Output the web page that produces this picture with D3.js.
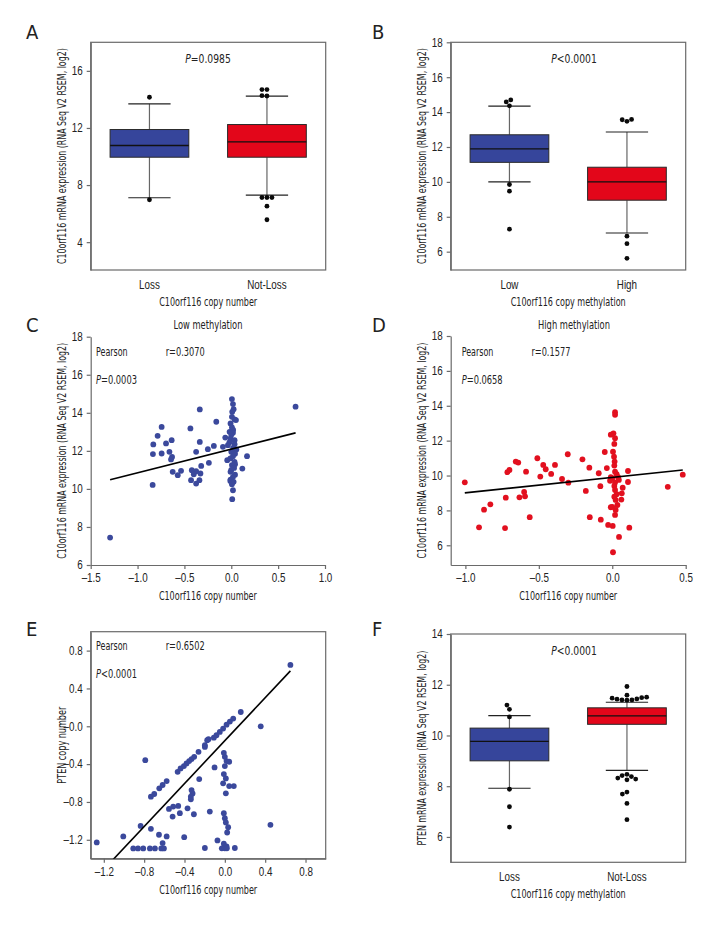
<!DOCTYPE html>
<html><head><meta charset="utf-8">
<script src="https://cdn.jsdelivr.net/npm/d3@7"></script>
<style>
body{margin:0;background:#fff;}
svg{font-family:"Liberation Sans Narrow","DejaVu Sans Condensed","Roboto Condensed",sans-serif;font-stretch:condensed;}
</style></head><body>
<svg id="c" width="720" height="936"></svg>
<script>
// ---------------- DATA ----------------
// Panel A: boxplot, C10orf116 copy number
const catsA = ["Loss", "Not-Loss"];
const lowA = [7.11, 7.29], q1A = [9.95, 9.95], medA = [10.77, 11.03], q3A = [11.89, 12.24], highA = [13.69, 14.23];
const outA = [[14.15, 6.97], [14.69, 14.69, 14.24, 14.26, 7.13, 7.13, 7.13, 6.52, 5.57]];
const yTicksA = [4, 8, 12, 16];
const yLabelsA = ["4", "8", "12", "16"];

// Panel B: boxplot, methylation
const catsB = ["Low", "High"];
const lowB = [10.0, 7.07], q1B = [11.12, 8.95], medB = [11.89, 10.0], q3B = [12.70, 10.84], highB = [14.34, 12.86];
const outB = [[14.70, 14.36, 14.58, 9.85, 9.47, 7.29], [13.58, 13.47, 13.56, 6.89, 6.46, 5.62]];
const yTicksB = [6, 8, 10, 12, 14, 16, 18];
const yLabelsB = ["6", "8", "10", "12", "14", "16", "18"];

// Panel C: scatter, low methylation [copy number, expression]
const ptsC = [
 [-1.293,7.44],[-0.336,14.18],[-0.743,13.26],[-0.436,13.18],[-0.16,13.53],[-0.786,12.79],[-0.832,12.34],
 [-0.696,12.39],[-0.636,12.56],[-0.836,11.83],[-0.743,11.86],[-0.66,11.95],[-0.632,11.68],[-0.643,11.55],
 [-0.336,12.47],[-0.375,11.95],[-0.25,12.09],[-0.186,12.26],[-0.625,10.9],[-0.536,10.95],[-0.571,10.72],
 [-0.421,10.98],[-0.375,10.93],[-0.321,11.21],[-0.239,11.37],[-0.4,10.77],[-0.329,10.81],[-0.429,10.46],
 [-0.375,10.28],[-0.34,10.46],[-0.839,10.21],[-0.089,12.21],[-0.064,12.7],[-0.043,11.51],
 [0.118,11.07],[0.168,11.72],[0.686,14.32],
 [0.007,14.72],[0.018,14.46],[0.025,14.19],[0.01,14.05],[0.007,13.79],[0.035,13.65],[0.05,13.62],[-0.008,13.44],
 [0.007,13.23],[0.02,13.1],[-0.018,13.0],[0.018,12.95],[0.0,12.85],[-0.008,12.65],[0.035,12.56],[-0.02,12.45],
 [-0.036,12.3],[0.035,12.35],[0.02,12.15],[0.054,12.07],[0.0,11.95],[0.04,11.85],[0.018,11.72],[-0.01,11.6],
 [0.035,11.42],[0.04,11.3],[0.007,11.25],[0.03,11.1],[0.0,11.0],[-0.008,10.9],[0.04,10.75],[0.018,10.63],
 [-0.008,10.49],[-0.01,10.42],[0.025,10.37],[0.007,10.25],[0.018,9.93],[0.01,9.46]
];
const fitC = [1.246, 12.09]; // slope, intercept
const xTicksC = [-1.5, -1.0, -0.5, 0.0, 0.5, 1.0];
const xLabelsC = ["\u20131.5", "\u20131.0", "\u20130.5", "0.0", "0.5", "1.0"];
const yTicksC = [6, 8, 10, 12, 14, 16, 18];
const yLabelsC = ["6", "8", "10", "12", "14", "16", "18"];

// Panel D: scatter, high methylation
const ptsD = [
 [-1.004,9.61],[-0.907,7.03],[-0.873,8.04],[-0.83,8.35],[-0.73,6.99],[-0.725,8.73],[-0.714,10.19],[-0.70,10.32],
 [-0.657,10.8],[-0.64,10.74],[-0.632,8.75],[-0.60,9.06],[-0.594,8.81],[-0.587,10.22],[-0.562,7.61],[-0.51,10.99],
 [-0.49,9.94],[-0.47,10.61],[-0.453,10.36],[-0.416,10.09],[-0.39,10.61],[-0.342,9.80],[-0.303,11.22],[-0.299,9.59],
 [-0.203,10.93],[-0.156,10.45],[-0.18,9.12],[-0.153,7.61],[-0.092,10.13],[-0.081,9.39],[-0.078,7.47],[-0.051,11.35],
 [-0.037,10.43],[-0.028,7.17],[0.003,7.11],[0.005,5.6],[0.046,6.48],[0.116,7.01],[0.107,10.26],[0.107,9.63],
 [0.071,9.3],[0.065,8.98],[0.062,8.62],[0.378,9.35],[0.48,10.05],
 [0.019,13.63],[0.019,13.48],[0.008,12.42],[-0.01,12.34],[0.019,12.14],[0.014,11.81],[0.005,11.37],[0.012,11.08],
 [0.016,10.8],[0.014,10.57],[0.019,10.22],[0.03,10.08],[-0.01,9.9],[0.0,9.85],[0.04,9.9],[-0.015,9.7],[0.019,9.6],
 [0.045,9.75],[0.014,9.4],[0.019,9.17],[0.03,8.93],[0.014,8.79],[0.023,8.6],[0.035,8.31],[-0.01,8.18],[0.023,8.03],
 [0.019,7.74],[0.0,8.2]
];
const fitD = [0.886, 9.895];
const xTicksD = [-1.0, -0.5, 0.0, 0.5];
const xLabelsD = ["\u20131.0", "\u20130.5", "0.0", "0.5"];
const yTicksD = [6, 8, 10, 12, 14, 16, 18];
const yLabelsD = ["6", "8", "10", "12", "14", "16", "18"];

// Panel E: scatter, C10orf116 vs PTEN copy number
const ptsE = [
 [-1.27,-1.228],[-1.007,-1.165],[-0.835,-1.053],[-0.789,-0.358],
 [-0.908,-1.291],[-0.861,-1.291],[-0.809,-1.291],[-0.743,-1.291],[-0.693,-1.291],[-0.63,-1.291],[-0.604,-1.291],
 [-0.733,-1.084],[-0.653,-1.147],[-0.577,-1.165],[-0.617,-1.235],
 [-0.554,-0.874],[-0.512,-0.849],[-0.462,-0.842],[-0.518,-0.955],[-0.446,-0.919],[-0.37,-0.867],[-0.403,-1.172],[-0.307,-0.93],
 [-0.33,-0.674],[-0.32,-0.71],[-0.337,-0.772],[-0.337,-0.745],[-0.254,-0.558],
 [-0.733,-0.744],[-0.70,-0.716],[-0.65,-0.656],[-0.617,-0.621],[-0.577,-0.579],[-0.468,-0.481],[-0.439,-0.446],
 [-0.406,-0.421],[-0.38,-0.393],[-0.354,-0.368],[-0.33,-0.347],[-0.304,-0.323],[-0.261,-0.270],[-0.198,-0.218],
 [-0.175,-0.147],[-0.198,-0.2],[-0.162,-0.137],[-0.109,-0.12],[-0.083,-0.095],[-0.05,-0.06],[-0.017,-0.024],
 [0.017,0.017],[0.05,0.05],[0.083,0.081],[0.158,0.151],[0.65,0.649],
 [0.356,0.0],[-0.102,-0.435],[-0.01,-0.281],[0.0,-0.323],[0.017,-0.368],[0.043,-0.375],[0.0,-0.421],[-0.01,-0.505],
 [0.01,-0.551],[-0.017,-0.603],[0.043,-0.632],[0.089,-0.632],[0.01,-0.709],[-0.149,-0.902],[-0.01,-0.919],[0.0,-0.972],
 [0.01,-1.017],[0.033,-1.067],[0.023,-1.123],[0.452,-1.042],[-0.073,-1.207],[-0.01,-1.242],[0.017,-1.27],[-0.198,-1.287],
 [-0.03,-1.29],[0.099,-1.287],[0.0,-1.29],[0.02,-1.29]
];
const fitE = [1.135, -0.152];
const xTicksE = [-1.2, -0.8, -0.4, 0.0, 0.4, 0.8];
const xLabelsE = ["\u20131.2", "\u20130.8", "\u20130.4", "0.0", "0.4", "0.8"];
const yTicksE = [-1.2, -0.8, -0.4, 0.0, 0.4, 0.8];
const yLabelsE = ["\u20131.2", "\u20130.8", "\u20130.4", "\u20130.0", "0.4", "0.8"];

// Panel F: boxplot, PTEN expression
const catsF = ["Loss", "Not-Loss"];
const lowF = [7.92, 8.62], q1F = [9.0, 10.44], medF = [9.77, 10.77], q3F = [10.29, 11.09], highF = [10.78, 11.31];
const outF = [[11.03, 11.2, 10.73, 7.88, 7.19, 6.39],
  [11.93, 11.59, 11.49, 11.44, 11.40, 11.39, 11.40, 11.43, 11.47, 11.51, 8.47, 8.38, 8.28, 8.25, 8.32, 8.42, 7.69, 7.77, 7.32, 6.68]];
const yTicksF = [6, 8, 10, 12, 14];
const yLabelsF = ["6", "8", "10", "12", "14"];

// ---------------- STYLE ----------------
const BLUE = "#36459b", RED = "#e3061a", DOT_BLUE = "#3b499c", DOT_RED = "#e2101f";
const AXIS = "#6a6a6a", TXT = "#222";
const FS = 12;
const svg = d3.select("#c");

function styleAxis(g) {
  g.selectAll("path.domain").attr("stroke", AXIS).attr("stroke-width", 1.2);
  g.selectAll(".tick line").attr("stroke", AXIS).attr("stroke-width", 1.2);
  g.selectAll(".tick text").attr("fill", TXT).attr("font-size", FS).attr("font-family", null);
}

function yAxis(y, x0, ticks, labels) {
  const g = svg.append("g").attr("transform", `translate(${x0},0)`)
    .call(d3.axisLeft(y).tickValues(ticks).tickFormat((d, i) => labels[i]).tickSize(4).tickPadding(4).tickSizeOuter(0));
  styleAxis(g);
  return g;
}
function xAxis(x, y0, ticks, labels, pad) {
  const g = svg.append("g").attr("transform", `translate(0,${y0})`)
    .call(d3.axisBottom(x).tickValues(ticks).tickFormat((d, i) => labels[i]).tickSize(4).tickPadding(pad).tickSizeOuter(0));
  styleAxis(g);
  return g;
}
function frame(p) {
  svg.append("rect").attr("x", p.x0).attr("y", p.y0).attr("width", p.x1 - p.x0).attr("height", p.y1 - p.y0)
    .attr("fill", "none").attr("stroke", AXIS).attr("stroke-width", 1.2);
}
function text(x, y, s, size, anchor, opts = {}) {
  const t = svg.append("text").attr("x", x).attr("y", y).attr("font-size", size).attr("fill", TXT)
    .attr("text-anchor", anchor || "start");
  if (opts.italicP) {
    t.append("tspan").attr("font-style", "italic").text("P");
    t.append("tspan").text(s);
  } else t.text(s);
  if (opts.w) t.attr("data-w", opts.w);
  return t;
}
function yTitle(x, cy, s, w) {
  svg.append("text").attr("transform", `translate(${x},${cy}) rotate(-90)`).attr("text-anchor", "middle")
    .attr("dy", "0.35em").attr("font-size", FS).attr("fill", TXT).attr("data-w", w).attr("data-rot", 1).text(s);
}
function letter(x, y, s) { text(x, y, s, 20, "start").attr("data-keep", 1); }

function swarm(vals, y, ref, r) {
  const d = 2 * r + 0.2;
  const placed = [];
  const items = vals.map(v => ({ v, y: y(v) })).sort((a, b) => Math.abs(a.v - ref) - Math.abs(b.v - ref));
  items.forEach(p => {
    const ints = [];
    placed.forEach(q => {
      const dy = Math.abs(q.y - p.y);
      if (dy < d) { const w = Math.sqrt(d * d - dy * dy); ints.push([q.x - w, q.x + w]); }
    });
    const cands = [0];
    ints.forEach(([a, b]) => cands.push(a, b));
    cands.sort((a, b) => Math.abs(a) - Math.abs(b) || a - b);
    let xx = 0;
    for (const c of cands) { if (ints.every(([a, b]) => c <= a + 1e-6 || c >= b - 1e-6)) { xx = c; break; } }
    p.x = xx; placed.push(p);
  });
  return placed;
}

function boxPanel(p, cats, lo, q1, med, q3, hi, outs, yDom, yTicks, yLabels, colors, xTitle, xW, yT, yW, pText, pX) {
  const x = d3.scaleBand().domain(cats).range([p.x0, p.x1]).padding(0);
  const y = d3.scaleLinear().domain(yDom).range([p.y1, p.y0]);
  const bw = x.bandwidth() * 0.67, cw = x.bandwidth() * 0.36;
  yAxis(y, p.x0, yTicks, yLabels);
  const gx = svg.append("g").attr("transform", `translate(0,${p.y1})`)
    .call(d3.axisBottom(x).tickSize(0).tickPadding(10));
  gx.select("path.domain").remove();
  gx.selectAll(".tick text").attr("fill", TXT).attr("font-size", FS).attr("font-family", null);
  frame(p);
  cats.forEach((c, i) => {
    const cx = x(c) + x.bandwidth() / 2;
    const g = svg.append("g");
    g.append("line").attr("x1", cx).attr("x2", cx).attr("y1", y(hi[i])).attr("y2", y(q3[i])).attr("stroke", "#666").attr("stroke-width", 1.2);
    g.append("line").attr("x1", cx).attr("x2", cx).attr("y1", y(q1[i])).attr("y2", y(lo[i])).attr("stroke", "#666").attr("stroke-width", 1.2);
    [hi[i], lo[i]].forEach(v => g.append("line").attr("x1", cx - cw / 2).attr("x2", cx + cw / 2)
      .attr("y1", y(v)).attr("y2", y(v)).attr("stroke", "#222").attr("stroke-width", 1.2));
    g.append("rect").attr("x", cx - bw / 2).attr("width", bw).attr("y", y(q3[i])).attr("height", y(q1[i]) - y(q3[i]))
      .attr("fill", colors[i]).attr("stroke", "#2a2a2a").attr("stroke-width", 1);
    g.append("line").attr("x1", cx - bw / 2).attr("x2", cx + bw / 2).attr("y1", y(med[i])).attr("y2", y(med[i]))
      .attr("stroke", "#111").attr("stroke-width", 1.3);
    swarm(outs[i], y, med[i], 2.4).forEach(o => g.append("circle").attr("cx", cx + o.x).attr("cy", o.y).attr("r", 2.4).attr("fill", "#0a0a0a"));
  });
  text((p.x0 + p.x1) / 2, p.y1 + 36, xTitle, FS, "middle", { w: xW });
  yTitle(p.x0 - 29, (p.y0 + p.y1) / 2, yT, yW);
  text(pX, p.y0 + 21, pText, 12.5, "middle", { italicP: true });
}

function scatterPanel(p, pts, fit, xDom, yDom, xTicks, xLabels, yTicks, yLabels, color, boxed, xTitle, yT, yW, rText, pText, xPad) {
  const x = d3.scaleLinear().domain(xDom).range([p.x0, p.x1]);
  const y = d3.scaleLinear().domain(yDom).range([p.y1, p.y0]);
  const clipId = "clip" + Math.round(p.x0) + Math.round(p.y0);
  svg.append("clipPath").attr("id", clipId).append("rect").attr("x", p.x0).attr("y", p.y0)
    .attr("width", p.x1 - p.x0).attr("height", p.y1 - p.y0);
  yAxis(y, p.x0, yTicks, yLabels);
  xAxis(x, p.y1, xTicks, xLabels, xPad);
  if (boxed) frame(p);
  svg.append("g").selectAll("circle").data(pts).join("circle")
    .attr("cx", d => x(d[0])).attr("cy", d => y(d[1])).attr("r", 2.9).attr("fill", color);
  const xs = d3.extent(pts, d => d[0]);
  svg.append("line").attr("clip-path", `url(#${clipId})`)
    .attr("x1", x(xs[0])).attr("y1", y(fit[0] * xs[0] + fit[1]))
    .attr("x2", x(xs[1])).attr("y2", y(fit[0] * xs[1] + fit[1]))
    .attr("stroke", "#000").attr("stroke-width", 1.6);
  text(p.tx, p.ty1, "Pearson", 12.5, "start", { w: 31.7 });
  text(p.tx + 69.7, p.ty1, rText, 12.5, "start", { w: 39 });
  text(p.tx, p.ty2, pText, 12.5, "start", { italicP: true, w: 41 });
  text((p.x0 + p.x1) / 2, p.y1 + 35, xTitle, FS, "middle", { w: 98 });
  yTitle(p.x0 - 29, (p.y0 + p.y1) / 2, yT, yW);
}

const YT = "C10orf116 mRNA expression (RNA Seq V2 RSEM, log2)";

// A
boxPanel({ x0: 90.7, x1: 325.7, y0: 42.3, y1: 270 }, catsA, lowA, q1A, medA, q3A, highA, outA,
  [2.05, 18.0], yTicksA, yLabelsA, [BLUE, RED], "C10orf116 copy number", 98, YT, 216, "=0.0985", 208);
letter(26, 39, "A");
// B
boxPanel({ x0: 450.7, x1: 685.7, y0: 42.3, y1: 270 }, catsB, lowB, q1B, medB, q3B, highB, outB,
  [4.95, 18], yTicksB, yLabelsB, [BLUE, RED], "C10orf116 copy methylation", 115, YT, 216, "<0.0001", 574);
letter(372, 39, "B");
// C
scatterPanel({ x0: 90.7, x1: 325, y0: 336.7, y1: 565, tx: 96, ty1: 356, ty2: 384 }, ptsC, fitC, [-1.5, 1.0], [6, 18],
  xTicksC, xLabelsC, yTicksC, yLabelsC, DOT_BLUE, false, "C10orf116 copy number", YT, 216, "r=0.3070", "=0.0003", 4);
text(208, 329, "Low methylation", FS, "middle", { w: 69 });
letter(26, 332, "C");
// D
scatterPanel({ x0: 450.7, x1: 685.7, y0: 336, y1: 565, tx: 461.7, ty1: 356, ty2: 384 }, ptsD, fitD, [-1.1, 0.5], [4.87, 18],
  xTicksD, xLabelsD, yTicksD, yLabelsD, DOT_RED, false, "C10orf116 copy number", YT, 216, "r=0.1577", "=0.0658", 4);
text(574, 329, "High methylation", FS, "middle", { w: 72 });
letter(372, 332, "D");
// E
scatterPanel({ x0: 90.7, x1: 325.7, y0: 631.7, y1: 858.7, tx: 96, ty1: 650, ty2: 678 }, ptsE, fitE, [-1.33, 1.0], [-1.4, 1.0],
  xTicksE, xLabelsE, yTicksE, yLabelsE, DOT_BLUE, true, "C10orf116 copy number", "PTEN copy number", 77, "r=0.6502", "<0.0001", 5);
letter(26, 636, "E");
// F
boxPanel({ x0: 450.7, x1: 685.7, y0: 634, y1: 862.3 }, catsF, lowF, q1F, medF, q3F, highF, outF,
  [5, 14], yTicksF, yLabelsF, [BLUE, RED], "C10orf116 copy methylation", 115, "PTEN mRNA expression (RNA Seq V2 RSEM, log2)", 195, "<0.0001", 574);
letter(372, 636, "F");

// condense text horizontally (scale along the reading direction) to mimic the narrow typeface
svg.selectAll("text").each(function () {
  const el = d3.select(this);
  if (el.attr("data-keep")) return;
  const w = el.attr("data-w");
  const len = this.getComputedTextLength();
  const sx = (w ? +w : len * 0.82) / len;
  if (el.attr("data-rot")) {
    el.attr("transform", el.attr("transform") + ` scale(${sx},1)`);
  } else {
    const tx = +(el.attr("x") || 0), ty = +(el.attr("y") || 0);
    el.attr("x", 0).attr("y", 0).attr("transform", `translate(${tx},${ty}) scale(${sx},1)`);
  }
});
</script>
</body></html>
